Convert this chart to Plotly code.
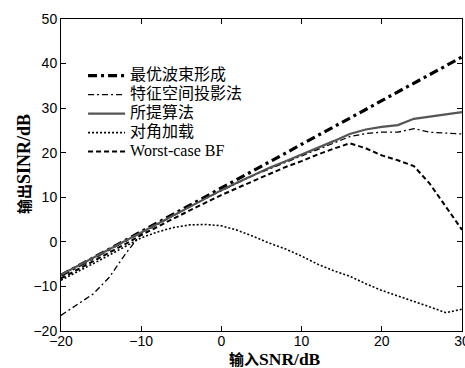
import plotly.graph_objects as go

snr = [-20, -18, -16, -14, -12, -10, -8, -6, -4, -2, 0, 2, 4, 6, 8, 10, 12, 14, 16, 18, 20, 22, 24, 26, 28, 30]

optimal = [-7.5, -5.5, -3.6, -1.6, 0.3, 2.3, 4.3, 6.2, 8.2, 10.1, 12.1, 14.1, 16.0, 18.0, 19.9,
           21.9, 23.9, 25.8, 27.8, 29.7, 31.7, 33.7, 35.6, 37.6, 39.5, 41.5]
eigen = [-16.5, -14.2, -11.7, -8.0, -2.8, 1.9, 3.9, 5.9, 7.8, 9.7, 11.5, 13.2, 14.9, 16.4, 17.9,
         19.3, 20.7, 22.1, 23.6, 24.3, 24.6, 24.6, 25.4, 24.6, 24.4, 24.2]
proposed = [-7.4, -5.5, -3.6, -1.7, 0.3, 2.2, 4.1, 6.0, 7.9, 9.8, 11.6, 13.3, 15.0, 16.6, 18.1,
            19.6, 21.0, 22.6, 24.2, 25.2, 25.8, 26.2, 27.6, 28.1, 28.7, 29.1]
diag = [-8.6, -6.8, -4.9, -3.0, -1.0, 0.9, 2.2, 3.2, 3.8, 3.9, 3.6, 2.6, 1.2, -0.3, -1.6,
        -3.2, -5.0, -6.5, -7.7, -9.4, -10.9, -12.1, -13.3, -14.6, -15.9, -15.1]
worst = [-8.2, -6.3, -4.4, -2.5, -0.5, 1.5, 3.4, 5.2, 7.0, 8.8, 10.5, 12.1, 13.7, 15.2, 16.8,
         18.1, 19.6, 20.9, 22.1, 21.0, 19.4, 18.3, 17.0, 13.0, 7.8, 2.7]

names = ["最优波束形成", "特征空间投影法", "所提算法", "对角加载", "Worst-case BF"]
xticks = [-20, -10, 0, 10, 20, 30]
yticks = [-20, -10, 0, 10, 20, 30, 40, 50]

series = [optimal, eigen, proposed, diag, worst]
styles = [
    dict(color="black", width=3.2, dash="9px,4px,3px,4px"),
    dict(color="black", width=1.3, dash="6px,3px,2px,3px"),
    dict(color="#555555", width=2.2, dash="solid"),
    dict(color="black", width=1.6, dash="2px,2px"),
    dict(color="black", width=2.0, dash="5px,3px"),
]

SERIF = "Times New Roman, Liberation Serif, Noto Sans CJK SC"

fig = go.Figure()
for nm, ys, st in zip(names, series, styles):
    fig.add_trace(go.Scatter(x=snr, y=ys, mode="lines",
                             name="<span style='font-size:16px'>" + nm + "</span>", line=st))

tickfont = dict(family="Liberation Sans, Arial", size=14, color="black")
axis_common = dict(showgrid=False, zeroline=False, showline=True, linecolor="black",
                   linewidth=1, mirror="ticks", ticks="inside", ticklen=5,
                   tickcolor="black", tickfont=tickfont, automargin=False)

def title_text(cn, en):
    return ("<b><span style='font-size:15px'>" + cn + "</span>" + en + "</b>")

fig.update_layout(
    width=465, height=368,
    margin=dict(l=61, r=3, t=19, b=37, autoexpand=False),
    plot_bgcolor="white", paper_bgcolor="white",
    xaxis=dict(range=[-20, 30], tickvals=xticks, ticklabeloverflow="allow",
               ticklabelstandoff=-3, **axis_common),
    yaxis=dict(range=[-20, 50], tickvals=yticks, **axis_common),
    showlegend=True,
    legend=dict(x=0.055, y=0.865, xanchor="left", yanchor="top",
                bgcolor="rgba(0,0,0,0)", borderwidth=0,
                font=dict(family=SERIF, size=11.5, color="black"),
                tracegroupgap=0, itemwidth=37),
    annotations=[
        dict(text=title_text("输入", "SNR/dB"), xref="paper", yref="paper", x=(275 - 61) / 401,
             y=(331 - 358.5) / 312, xanchor="center", yanchor="middle", showarrow=False,
             font=dict(family=SERIF, size=17.5, color="black")),
        dict(text=title_text("输出", "SINR/dB"), xref="paper", yref="paper", x=(24 - 61) / 401,
             y=(331 - 164) / 312, xanchor="center", yanchor="middle", showarrow=False,
             textangle=-90,
             font=dict(family=SERIF, size=18, color="black")),
    ],
)

fig.write_html("out.html")
